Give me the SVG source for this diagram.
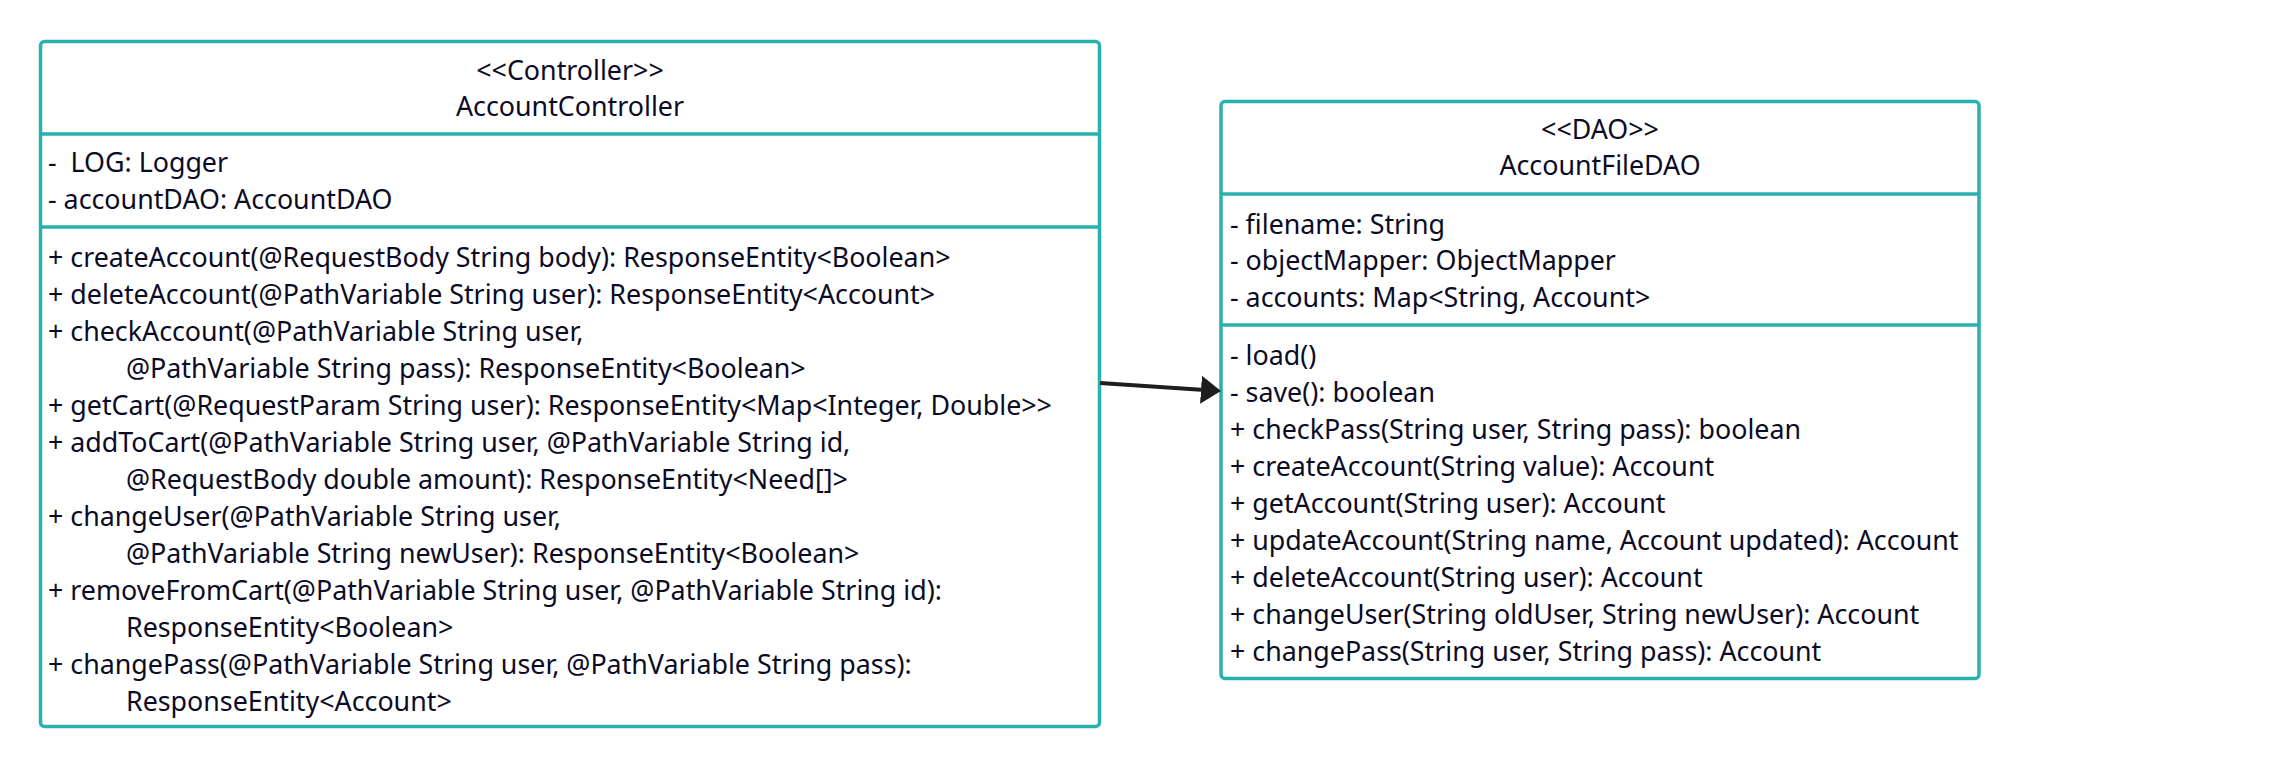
<svg xmlns="http://www.w3.org/2000/svg" width="2290" height="769" viewBox="0 0 2290 769">
  <style>
    .box { fill: #ffffff; stroke: #2ab0ad; stroke-width: 3.5; }
    .div { stroke: #2ab0ad; stroke-width: 3.5; }
    text { font-family: "Noto Sans", "Open Sans", sans-serif; font-size: 26.8px; fill: #0b0b26; }
    .c { text-anchor: middle; }
    .conn { stroke: #1e1e1e; stroke-width: 4; fill: none; }
  </style>
  <defs>
    <marker id="arrow" markerUnits="userSpaceOnUse" viewBox="0 0 20 28" refX="0" refY="14" markerWidth="20" markerHeight="28" orient="auto">
      <path d="M0,0 L20,14 L0,28 Z" fill="#1e1e1e"/>
    </marker>
  </defs>
  <rect width="2290" height="769" fill="#ffffff"/>

  <g id="AccountController">
    <rect class="box" x="40.5" y="41.5" width="1059" height="685" rx="4"/>
    <line class="div" x1="40.5" y1="134" x2="1099.5" y2="134"/>
    <line class="div" x1="40.5" y1="227" x2="1099.5" y2="227"/>
    <text class="c" x="570" y="80">&lt;&lt;Controller&gt;&gt;</text>
    <text class="c" x="570" y="116">AccountController</text>
    <text x="48" y="172" xml:space="preserve">-  LOG: Logger</text>
    <text x="48" y="209">- accountDAO: AccountDAO</text>
    <text x="48" y="267">+ createAccount(@RequestBody String body): ResponseEntity&lt;Boolean&gt;</text>
    <text x="48" y="304">+ deleteAccount(@PathVariable String user): ResponseEntity&lt;Account&gt;</text>
    <text x="48" y="341">+ checkAccount(@PathVariable String user,</text>
    <text x="126" y="378">@PathVariable String pass): ResponseEntity&lt;Boolean&gt;</text>
    <text x="48" y="415">+ getCart(@RequestParam String user): ResponseEntity&lt;Map&lt;Integer, Double&gt;&gt;</text>
    <text x="48" y="452">+ addToCart(@PathVariable String user, @PathVariable String id,</text>
    <text x="126" y="489">@RequestBody double amount): ResponseEntity&lt;Need[]&gt;</text>
    <text x="48" y="526">+ changeUser(@PathVariable String user,</text>
    <text x="126" y="563">@PathVariable String newUser): ResponseEntity&lt;Boolean&gt;</text>
    <text x="48" y="600">+ removeFromCart(@PathVariable String user, @PathVariable String id):</text>
    <text x="126" y="637">ResponseEntity&lt;Boolean&gt;</text>
    <text x="48" y="674">+ changePass(@PathVariable String user, @PathVariable String pass):</text>
    <text x="126" y="711">ResponseEntity&lt;Account&gt;</text>
  </g>

  <g id="AccountFileDAO">
    <rect class="box" x="1221" y="101.5" width="758" height="577" rx="4"/>
    <line class="div" x1="1221" y1="194" x2="1979" y2="194"/>
    <line class="div" x1="1221" y1="325" x2="1979" y2="325"/>
    <text class="c" x="1600" y="139">&lt;&lt;DAO&gt;&gt;</text>
    <text class="c" x="1600" y="175">AccountFileDAO</text>
    <text x="1230" y="234">- filename: String</text>
    <text x="1230" y="270">- objectMapper: ObjectMapper</text>
    <text x="1230" y="307">- accounts: Map&lt;String, Account&gt;</text>
    <text x="1230" y="365">- load()</text>
    <text x="1230" y="402">- save(): boolean</text>
    <text x="1230" y="439">+ checkPass(String user, String pass): boolean</text>
    <text x="1230" y="476">+ createAccount(String value): Account</text>
    <text x="1230" y="513">+ getAccount(String user): Account</text>
    <text x="1230" y="550">+ updateAccount(String name, Account updated): Account</text>
    <text x="1230" y="587">+ deleteAccount(String user): Account</text>
    <text x="1230" y="624">+ changeUser(String oldUser, String newUser): Account</text>
    <text x="1230" y="661">+ changePass(String user, String pass): Account</text>
  </g>

  <g id="connectors">
    <path class="conn" d="M1100,383 L1201,389.7" marker-end="url(#arrow)"/>
  </g>
</svg>
